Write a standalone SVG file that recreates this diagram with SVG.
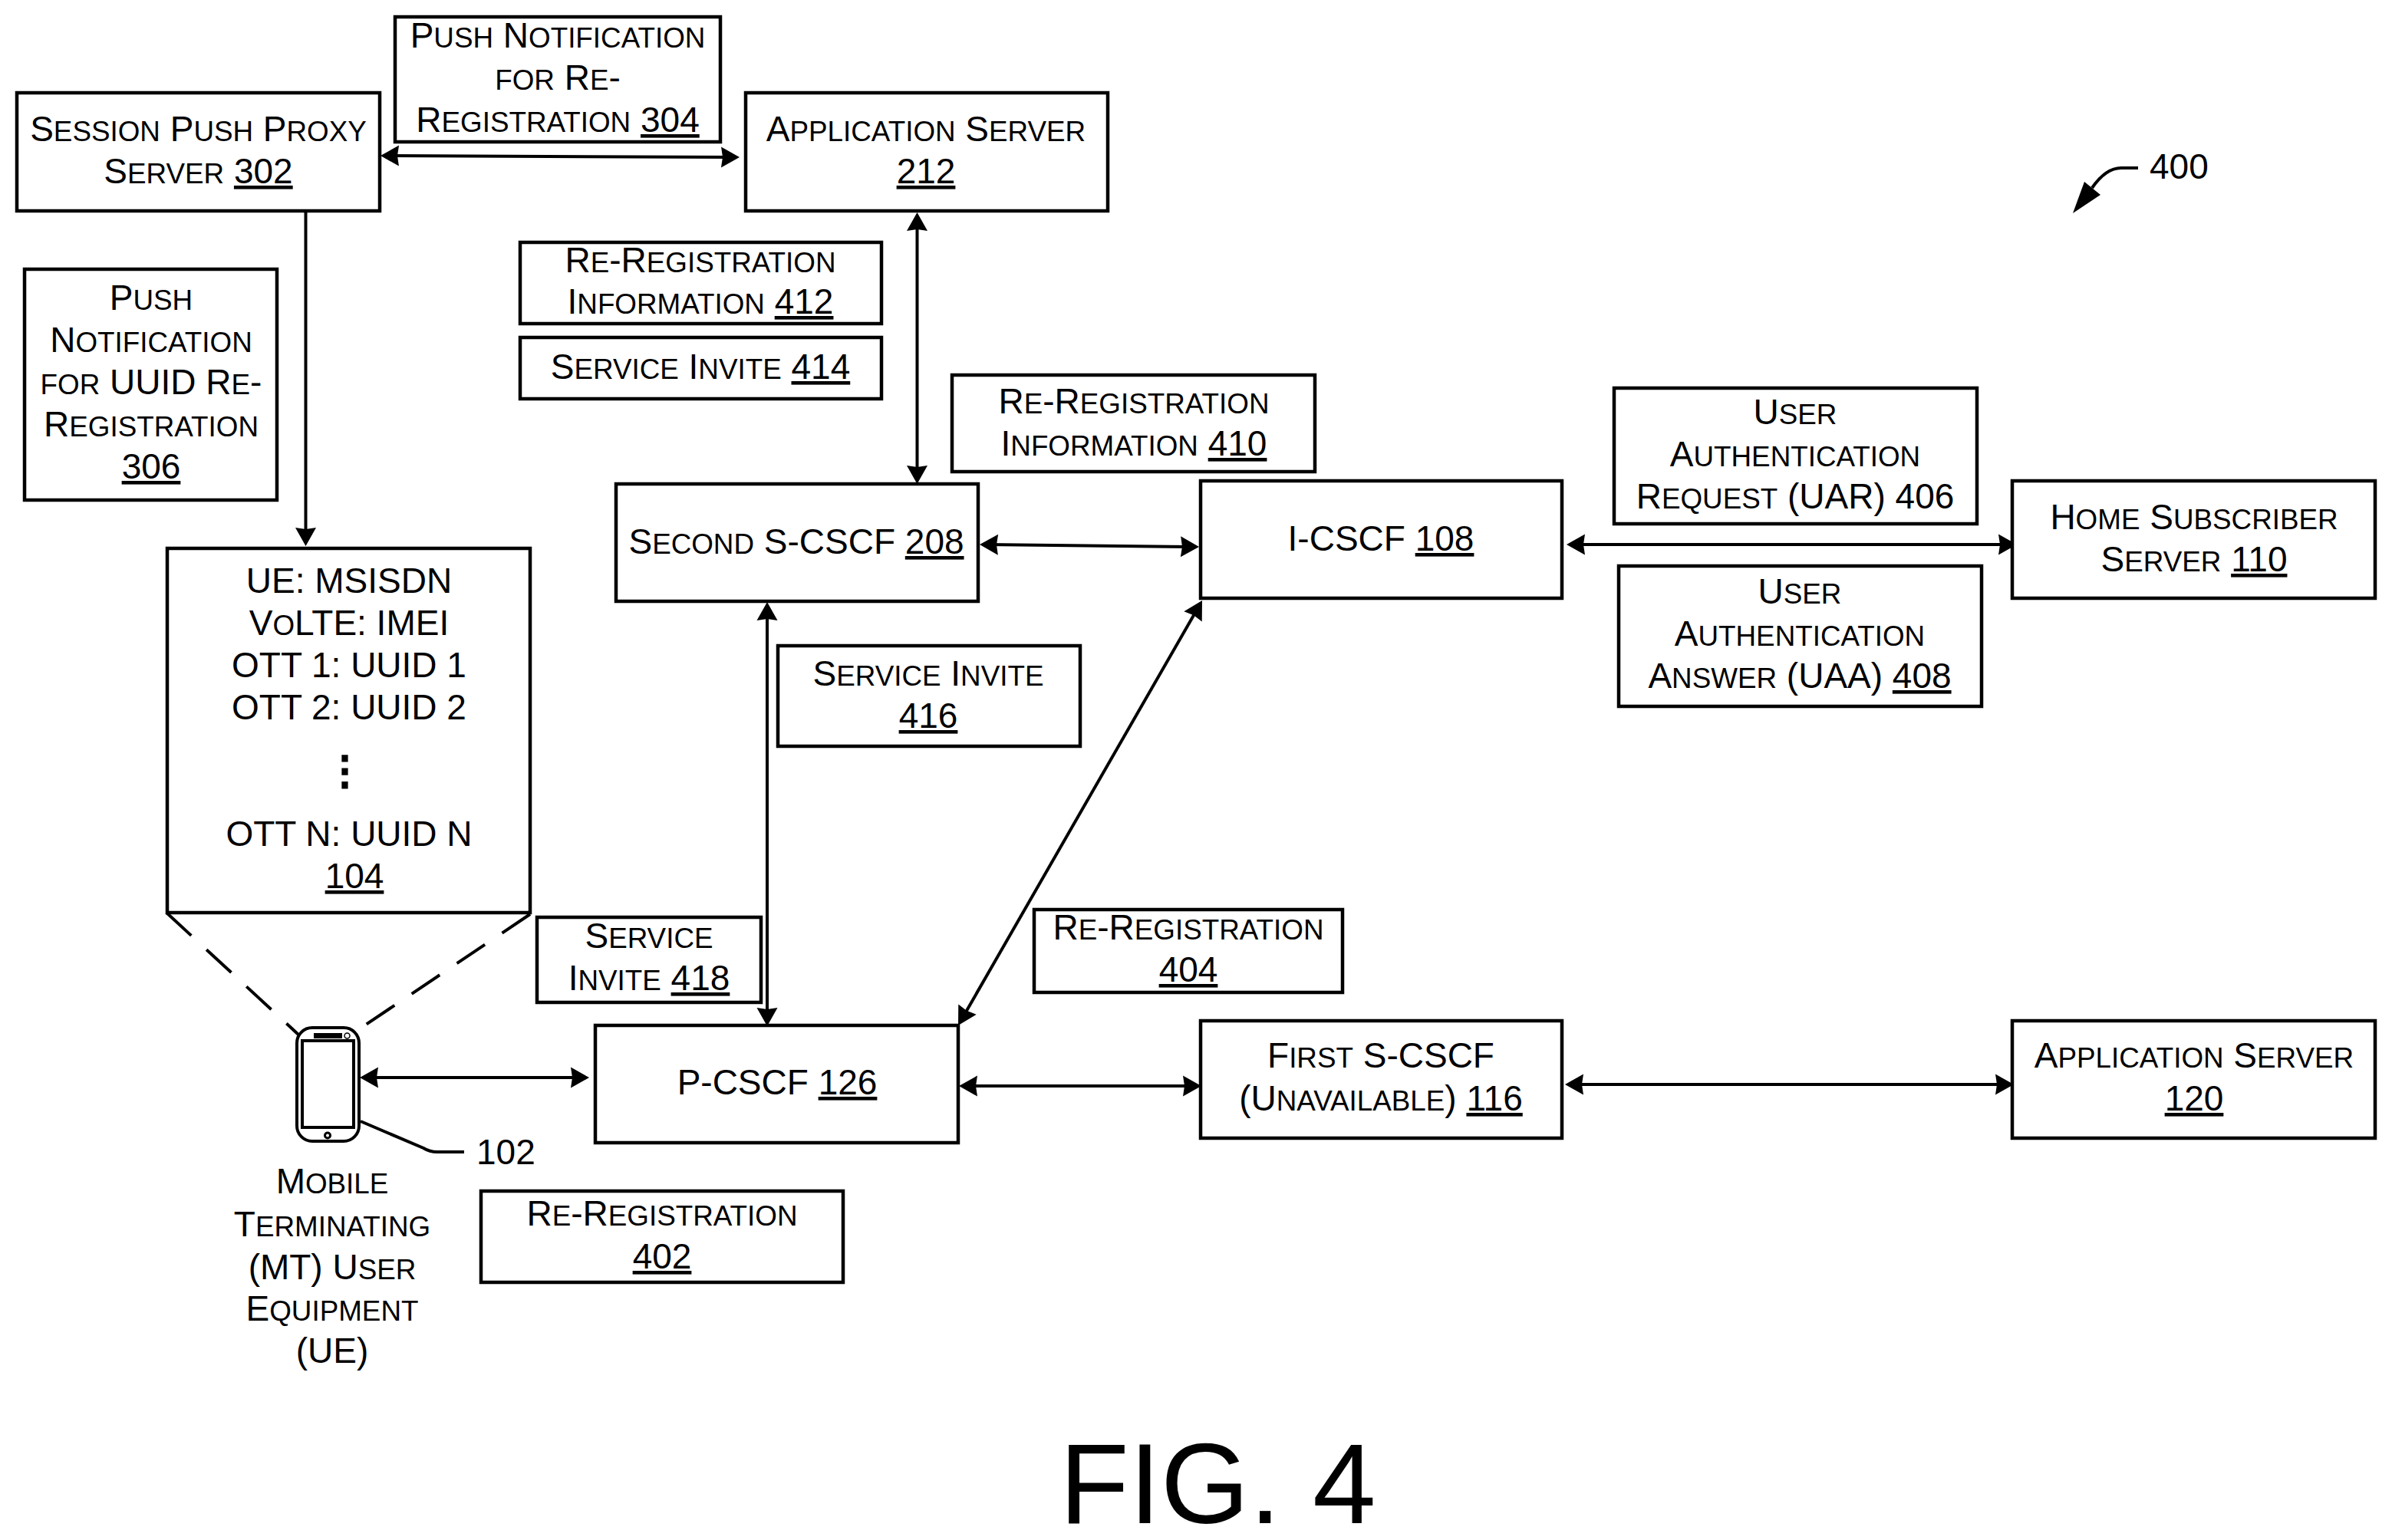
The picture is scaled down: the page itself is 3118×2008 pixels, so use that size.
<svg xmlns="http://www.w3.org/2000/svg" width="3118" height="2008" viewBox="0 0 3118 2008">
<style>
text{font-family:"Liberation Sans",Arial,sans-serif;font-size:46px;fill:#000;text-anchor:middle}
.s{font-size:36.800px}
.u{text-decoration:underline}
.b{fill:#fff;stroke:#000;stroke-width:4.5}
.c{fill:none;stroke:#000;stroke-width:4;marker-start:url(#a);marker-end:url(#a)}
.e{marker-start:none}
.d{fill:none;stroke:#000;stroke-width:4;stroke-dasharray:44 27}
.l{fill:none;stroke:#000;stroke-width:4}
.fig{font-size:148.500px;text-anchor:start}
.st{text-anchor:start}
</style>
<defs>
<marker id="a" markerUnits="userSpaceOnUse" markerWidth="26" markerHeight="28" refX="16" refY="13.500" orient="auto-start-reverse" overflow="visible"><path d="M0 0L24 13.500L0 27L2 13.500Z" fill="#000"/></marker>
</defs>
<rect width="3118" height="2008" fill="#fff"/>
<g id="connectors">
<path class="c" d="M504 203L956 205"/>
<path class="c e" d="M398.500 276V704"/>
<path class="c" d="M1195.500 285V623"/>
<path class="c" d="M1285 710L1555 713"/>
<path class="c" d="M2050 710H2621"/>
<path class="c" d="M1000 793V1330"/>
<path class="c" d="M1563 790L1253 1330"/>
<path class="c" d="M477 1405H760"/>
<path class="c" d="M1258 1416H1558"/>
<path class="c" d="M2048 1414H2617"/>
<path class="d" d="M217 1190L389 1349"/>
<path class="d" d="M691 1192L471 1340"/>
<path class="l" d="M470 1462L552 1497Q560 1502 570 1502H605"/>
<path class="l" d="M2787 219H2765Q2745 219 2727 245"/>
<path d="M2702 278L2717 237L2738 254Z"/>
</g>
<g id="n302"><rect class="b" x="22" y="121" width="473" height="154"/><text x="258.500" y="184">S<tspan class="s">ESSION</tspan> P<tspan class="s">USH</tspan> P<tspan class="s">ROXY</tspan></text><text x="258.500" y="239">S<tspan class="s">ERVER</tspan> <tspan class="u">302</tspan></text></g>
<g id="n304"><rect class="b" x="515" y="22" width="424" height="163"/><text x="727" y="62">P<tspan class="s">USH</tspan> N<tspan class="s">OTIFICATION</tspan></text><text x="727" y="117"><tspan class="s">FOR</tspan> R<tspan class="s">E</tspan>-</text><text x="727" y="172">R<tspan class="s">EGISTRATION</tspan> <tspan class="u">304</tspan></text></g>
<g id="n212"><rect class="b" x="972" y="121" width="472" height="154"/><text x="1207" y="184">A<tspan class="s">PPLICATION</tspan> S<tspan class="s">ERVER</tspan></text><text x="1207" y="239" class="u">212</text></g>
<g id="n412"><rect class="b" x="678" y="316" width="471" height="106"/><text x="913" y="355">R<tspan class="s">E</tspan>-R<tspan class="s">EGISTRATION</tspan></text><text x="913" y="409">I<tspan class="s">NFORMATION</tspan> <tspan class="u">412</tspan></text></g>
<g id="n414"><rect class="b" x="678" y="440" width="471" height="80"/><text x="913" y="494">S<tspan class="s">ERVICE</tspan> I<tspan class="s">NVITE</tspan> <tspan class="u">414</tspan></text></g>
<g id="n306"><rect class="b" x="32" y="351" width="329" height="301"/><text x="197" y="404">P<tspan class="s">USH</tspan></text><text x="197" y="459">N<tspan class="s">OTIFICATION</tspan></text><text x="197" y="514"><tspan class="s">FOR</tspan> UUID R<tspan class="s">E</tspan>-</text><text x="197" y="569">R<tspan class="s">EGISTRATION</tspan></text><text x="197" y="624" class="u">306</text></g>
<g id="n104"><rect class="b" x="218" y="715" width="473" height="475"/><text x="455" y="773">UE: MSISDN</text><text x="455" y="828">V<tspan class="s">O</tspan>LTE: IMEI</text><text x="455" y="883">OTT 1: UUID 1</text><text x="455" y="938">OTT 2: UUID 2</text><text x="449.500" y="1022" stroke="#000" stroke-width="3" style="font-family:'DejaVu Sans',sans-serif;font-size:51px">⋮</text><text x="455" y="1103">OTT N: UUID N</text><text x="462" y="1158" class="u">104</text></g>
<g id="n208"><rect class="b" x="803" y="631" width="472" height="153"/><text x="1038" y="722">S<tspan class="s">ECOND</tspan> S-CSCF <tspan class="u">208</tspan></text></g>
<g id="n410"><rect class="b" x="1241" y="489" width="473" height="126"/><text x="1478" y="539">R<tspan class="s">E</tspan>-R<tspan class="s">EGISTRATION</tspan></text><text x="1478" y="594">I<tspan class="s">NFORMATION</tspan> <tspan class="u">410</tspan></text></g>
<g id="n108"><rect class="b" x="1565" y="627" width="471" height="153"/><text x="1800" y="718">I-CSCF <tspan class="u">108</tspan></text></g>
<g id="n406"><rect class="b" x="2104" y="506" width="473" height="177"/><text x="2340" y="553">U<tspan class="s">SER</tspan></text><text x="2340" y="608">A<tspan class="s">UTHENTICATION</tspan></text><text x="2340" y="663">R<tspan class="s">EQUEST</tspan> (UAR) 406</text></g>
<g id="n110"><rect class="b" x="2623" y="627" width="473" height="153"/><text x="2860" y="690">H<tspan class="s">OME</tspan> S<tspan class="s">UBSCRIBER</tspan></text><text x="2860" y="745">S<tspan class="s">ERVER</tspan> <tspan class="u">110</tspan></text></g>
<g id="n408"><rect class="b" x="2110" y="738" width="473" height="183"/><text x="2346" y="787">U<tspan class="s">SER</tspan></text><text x="2346" y="842">A<tspan class="s">UTHENTICATION</tspan></text><text x="2346" y="897">A<tspan class="s">NSWER</tspan> (UAA) <tspan class="u">408</tspan></text></g>
<g id="n416"><rect class="b" x="1014" y="842" width="394" height="131"/><text x="1210" y="894">S<tspan class="s">ERVICE</tspan> I<tspan class="s">NVITE</tspan></text><text x="1210" y="949" class="u">416</text></g>
<g id="n418"><rect class="b" x="700" y="1196" width="292" height="111"/><text x="846" y="1236">S<tspan class="s">ERVICE</tspan></text><text x="846" y="1291">I<tspan class="s">NVITE</tspan> <tspan class="u">418</tspan></text></g>
<g id="n126"><rect class="b" x="776" y="1337" width="473" height="153"/><text x="1013" y="1427">P-CSCF <tspan class="u">126</tspan></text></g>
<g id="n404"><rect class="b" x="1348" y="1186" width="402" height="108"/><text x="1549" y="1225">R<tspan class="s">E</tspan>-R<tspan class="s">EGISTRATION</tspan></text><text x="1549" y="1280" class="u">404</text></g>
<g id="n116"><rect class="b" x="1565" y="1331" width="471" height="153"/><text x="1800" y="1392">F<tspan class="s">IRST</tspan> S-CSCF</text><text x="1800" y="1448">(U<tspan class="s">NAVAILABLE</tspan>) <tspan class="u">116</tspan></text></g>
<g id="n120"><rect class="b" x="2623" y="1331" width="473" height="153"/><text x="2860" y="1392">A<tspan class="s">PPLICATION</tspan> S<tspan class="s">ERVER</tspan></text><text x="2860" y="1448" class="u">120</text></g>
<g id="n402"><rect class="b" x="627" y="1553" width="472" height="119"/><text x="863" y="1598">R<tspan class="s">E</tspan>-R<tspan class="s">EGISTRATION</tspan></text><text x="863" y="1654" class="u">402</text></g>
<g id="n102">
<rect x="387" y="1340" width="81" height="148" rx="20" fill="#fff" stroke="#000" stroke-width="4"/>
<rect x="394" y="1357" width="67" height="113" fill="#fff" stroke="#000" stroke-width="4"/>
<rect x="409" y="1347" width="37" height="7"/>
<circle cx="452.500" cy="1350.500" r="3.500" fill="#fff" stroke="#000" stroke-width="1.500"/>
<circle cx="427" cy="1480.500" r="3.500" fill="#fff" stroke="#000" stroke-width="3"/>
<text x="621" y="1518" class="st">102</text>
<text x="433" y="1556">M<tspan class="s">OBILE</tspan></text><text x="433" y="1612">T<tspan class="s">ERMINATING</tspan></text><text x="433" y="1668">(MT) U<tspan class="s">SER</tspan></text><text x="433" y="1722">E<tspan class="s">QUIPMENT</tspan></text><text x="433" y="1777">(UE)</text>
</g>
<text x="2802" y="233" class="st">400</text>
<text x="1381" y="1986" class="fig">FIG. 4</text>
</svg>
